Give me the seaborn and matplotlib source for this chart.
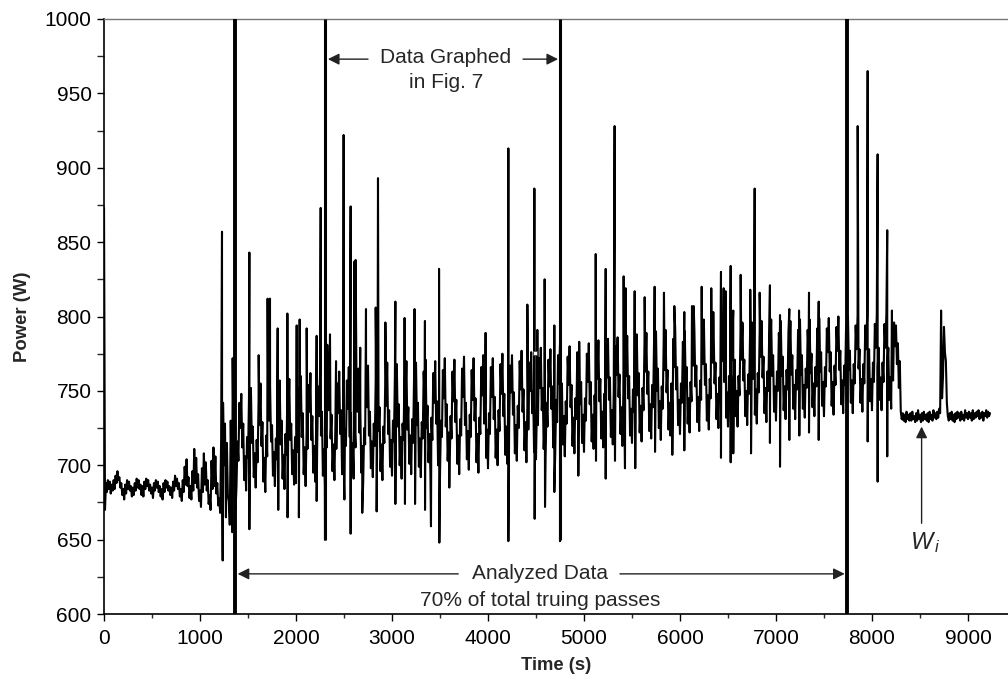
import numpy as np
import pandas as pd
import matplotlib
matplotlib.use("Agg")
import matplotlib.pyplot as plt
from matplotlib.ticker import MultipleLocator
import seaborn as sns

STEP = 10  # logger sampling step (s)

# power readings (W), one every STEP seconds from the segment start time
baseline_0 = [873, 670, 688, 682, 690, 684, 689, 681, 687, 683,
              690, 684, 693, 688, 696, 690, 692, 685, 688, 680,
              684, 677, 687, 681, 690, 684, 689, 683, 686, 679,
              685, 680, 688, 683, 691, 685, 690, 684, 687, 680,
              686, 679, 689, 684, 691, 686, 690, 683, 687, 681,
              685, 678, 688, 683, 690, 685, 689, 682, 686, 679,
              684, 677, 688, 682, 690, 685, 689, 683, 686, 680,
              685, 678, 689, 683, 693, 686, 691, 684, 688, 679,
              684, 676, 690, 682, 699, 687, 704, 686, 692, 678,
              686, 677, 696, 683, 711, 688, 705, 685, 694, 676,
              683, 672, 698, 682, 708, 687, 702, 683, 690, 674,
              680, 670, 703, 684, 712, 686, 706, 681, 688, 673,
              678, 668, 718, 690, 742, 700, 728, 665, 715, 680,
              676, 660, 730, 692, 772, 705, 745, 670]
cycles_1380 = [686, 716, 703, 742, 725, 748, 712, 728, 690, 706,
               683, 719, 705, 745, 729, 752, 715, 726, 692, 708,
               685, 717, 702, 744, 727, 755, 713, 729, 689, 705,
               682, 720, 706, 747, 730, 753, 716, 727, 693, 709,
               686, 718, 704, 746, 728, 757, 714, 730, 691, 707,
               684, 721, 707, 749, 731, 758, 717, 728, 694, 710,
               687, 719]
cycles_2000 = [688, 724, 709, 752, 734, 760, 719, 735, 694, 712,
               686, 722, 711, 754, 736, 762, 717, 733, 695, 713,
               689, 725, 710, 753, 733, 761, 720, 736, 693, 711,
               687, 723, 712, 756, 737, 764, 718, 734, 696, 714,
               690, 726, 711, 755, 735, 763, 721, 737, 694, 712,
               688, 724, 713, 757, 738, 766, 719, 735, 697, 715,
               691, 727, 712, 756, 736, 765, 722, 738, 695, 713,
               689, 725, 714, 758, 739, 767, 720, 736, 698, 716,
               692, 728, 713, 757, 737, 766, 723, 739, 696, 714,
               690, 726, 715, 759, 740, 769, 721, 737, 699, 717]
cycles_3000 = [693, 730, 716, 760, 741, 768, 726, 741, 700, 719,
               691, 728, 717, 762, 743, 770, 724, 739, 701, 720,
               694, 731, 715, 761, 742, 769, 727, 742, 699, 718,
               692, 729, 718, 763, 744, 771, 725, 740, 702, 721,
               695, 732, 717, 762, 742, 770, 728, 743, 700, 719,
               693, 730, 719, 764, 745, 772, 726, 741, 703, 722,
               696, 733, 718, 763, 743, 771, 729, 744, 701, 720,
               694, 731, 720, 765, 746, 773, 727, 742, 704, 723,
               697, 734, 719, 764, 744, 772, 730, 745, 702, 721,
               695, 732, 721, 766, 747, 774, 728, 743, 705, 724]
cycles_4000 = [698, 735, 721, 766, 746, 772, 731, 746, 705, 724,
               700, 737, 723, 768, 748, 775, 733, 748, 707, 726,
               701, 738, 722, 767, 749, 774, 734, 749, 708, 727,
               703, 740, 725, 770, 751, 777, 736, 751, 710, 729,
               702, 739, 724, 769, 750, 776, 735, 750, 709, 728,
               704, 741, 727, 772, 752, 779, 737, 752, 711, 730,
               705, 742, 726, 771, 753, 778, 738, 753, 712, 731,
               707, 744, 729, 774, 755, 781, 740, 755, 714, 733,
               706, 743, 728, 773, 754, 780, 739, 754, 713, 732,
               708, 745, 731, 776, 756, 783, 741, 756, 715, 734]
cycles_5000 = [709, 745, 730, 775, 756, 782, 741, 756, 716, 734,
               711, 747, 732, 777, 758, 784, 743, 758, 718, 736,
               712, 748, 733, 778, 759, 785, 744, 759, 719, 737,
               714, 750, 735, 780, 761, 786, 746, 761, 721, 739,
               713, 749, 734, 779, 760, 787, 745, 760, 720, 738,
               715, 751, 736, 781, 762, 788, 747, 762, 722, 740,
               716, 752, 737, 782, 763, 789, 748, 763, 723, 741,
               718, 754, 739, 784, 765, 790, 750, 765, 725, 743,
               717, 753, 738, 783, 764, 791, 749, 764, 724, 742,
               720, 755, 740, 785, 766, 792, 751, 766, 727, 744]
cycles_6000 = [721, 755, 742, 783, 766, 790, 752, 766, 728, 745,
               722, 756, 743, 784, 767, 791, 753, 767, 729, 746,
               723, 757, 744, 785, 768, 793, 754, 768, 730, 747,
               724, 758, 745, 786, 769, 793, 755, 769, 731, 748,
               725, 759, 746, 787, 770, 794, 756, 770, 732, 749,
               726, 760, 747, 788, 771, 795, 757, 771, 733, 750,
               726, 760, 747, 789, 771, 796, 757, 771, 733, 750,
               727, 761, 748, 789, 772, 796, 758, 772, 734, 751,
               728, 762, 749, 790, 773, 797, 759, 773, 735, 752,
               729, 763, 750, 791, 774, 798, 760, 774, 736, 753]
cycles_7000 = [730, 763, 750, 789, 773, 797, 760, 773, 737, 753,
               731, 764, 751, 790, 774, 797, 761, 774, 738, 754,
               731, 764, 751, 791, 774, 798, 761, 774, 738, 754,
               732, 765, 752, 791, 775, 798, 762, 775, 739, 755,
               733, 766, 753, 792, 776, 799, 763, 776, 740, 756,
               733, 766, 753, 792, 776, 799, 763, 776, 740, 756,
               734, 767, 754, 793, 777, 800, 764, 777, 741, 757,
               735, 767, 754, 793, 777, 800, 764, 777, 742, 757,
               735, 768, 755, 794, 778, 801, 765, 778, 742, 758,
               736, 768, 755, 794, 778, 801, 765, 778, 743, 758]
cycles_8000 = [737, 769, 756, 795, 779, 801, 766, 779, 744, 759,
               737, 769, 756, 795, 779, 802, 766, 779, 744, 759,
               738, 770, 757, 796, 780, 794, 768, 782, 752, 770]
idle_8300 = [736, 731, 735, 730, 734, 729, 736, 731, 734, 730,
             735, 730, 736, 731, 733, 729, 735, 730, 737, 731,
             734, 729, 735, 730, 736, 731, 734, 730, 735, 729,
             736, 731, 734, 730, 737, 732, 735, 731, 736, 732,
             738, 735, 804, 745, 760, 793, 776, 770, 742, 733,
             730, 735, 731, 736, 730, 734, 729, 735, 731, 736,
             732, 735, 730, 736, 731, 734, 730, 737, 732, 735,
             731, 736, 732, 735, 730, 737, 731, 735, 732, 736,
             733, 737, 731, 735, 732, 736, 730, 735, 733, 737,
             732, 736, 733, 735]

# single-sample transients
spike_t = [1229, 1514, 1611, 1704, 1729, 1809, 1910, 2007, 2038, 2111,
           2215, 2257, 2326, 2354, 2417, 2496, 2569, 2609, 2621, 2669,
           2729, 2830, 2854, 2931, 3035, 3131, 3235, 3343, 3490, 3975,
           4212, 4410, 4483, 4514, 4590, 4691, 5122, 5226, 5319, 5413,
           5434, 5528, 5632, 5736, 5833, 5941, 6045, 6125, 6143, 6226,
           6247, 6326, 6347, 6427, 6455, 6476, 6528, 6555, 6632, 6653,
           6732, 6778, 6830, 6937, 7042, 7139, 7240, 7344, 7445, 7851,
           7955, 8059, 8159, 8208]
spike_w = [857, 843, 774, 812, 812, 792, 802, 794, 798, 792,
           787, 873, 781, 788, 770, 922, 874, 837, 838, 779,
           805, 806, 893, 796, 810, 799, 805, 797, 832, 789,
           913, 808, 886, 791, 825, 794, 842, 832, 928, 827,
           819, 817, 813, 820, 816, 807, 803, 807, 807, 820,
           798, 819, 803, 830, 819, 817, 834, 804, 828, 793,
           818, 886, 816, 821, 801, 805, 804, 816, 810, 928,
           965, 909, 858, 804]
dip_t = [1236, 1336, 1514, 1815, 1912, 2030, 2215, 2302, 2504, 2569,
         2690, 2840, 3035, 3135, 3240, 3344, 3406, 3493, 3597, 4212,
         4486, 4594, 4691, 4750, 4941, 5125, 5226, 5323, 5427, 5534,
         5740, 5920, 6045, 6427, 6528, 6555, 6740, 6937, 7042, 7139,
         7243, 7344, 7445, 7955, 8059, 8159]
dip_w = [636, 655, 657, 670, 665, 665, 676, 650, 677, 654,
         668, 669, 674, 674, 674, 670, 659, 648, 685, 649,
         664, 672, 682, 649, 693, 703, 691, 703, 698, 698,
         709, 707, 710, 705, 702, 708, 708, 715, 699, 717,
         720, 722, 717, 716, 689, 706]

# section boundaries (s)
analyzed_start, analyzed_end = 1367, 7736
fig7_start, fig7_end = 2302, 4750


def build_frame():
    segments = [(0, baseline_0), (1380, cycles_1380), (2000, cycles_2000),
                (3000, cycles_3000), (4000, cycles_4000), (5000, cycles_5000),
                (6000, cycles_6000), (7000, cycles_7000), (8000, cycles_8000),
                (8300, idle_8300)]
    parts = []
    for start, vals in segments:
        t = start + STEP * np.arange(len(vals))
        parts.append(pd.DataFrame({"time": t, "power": vals}))
    parts.append(pd.DataFrame({"time": spike_t, "power": spike_w}))
    parts.append(pd.DataFrame({"time": dip_t, "power": dip_w}))
    df = pd.concat(parts, ignore_index=True)
    return df.sort_values("time", kind="mergesort").reset_index(drop=True)


def main():
    df = build_frame()

    sns.set_style("ticks")
    plt.rcParams["font.family"] = ["Liberation Sans", "DejaVu Sans"]
    plt.rcParams["mathtext.fontset"] = "custom"
    plt.rcParams["mathtext.it"] = "Liberation Sans:italic"
    plt.rcParams["mathtext.rm"] = "Liberation Sans"

    fig = plt.figure(figsize=(10.08, 6.85), dpi=100)
    ax = fig.add_axes([0.1032, 0.1036, 0.8968, 0.8687])

    sns.lineplot(data=df, x="time", y="power", estimator=None, sort=False,
                 color="black", lw=1.5, ax=ax)
    ax.plot([4490], [775.5], marker="s", ms=3.5, mfc="white", mec="#444", mew=0.6)

    # section markers
    for t in (analyzed_start, analyzed_end):
        ax.axvline(t, color="black", lw=2.8, zorder=3)
    ax.vlines([fig7_start, fig7_end], 650, 1000, color="black", lw=2.2, zorder=3)

    arrow = dict(arrowstyle="-|>", color="#222", lw=1.0, mutation_scale=17,
                 shrinkA=0, shrinkB=0)
    ax.annotate("", xy=(fig7_start + 30, 973), xytext=(2750, 973), arrowprops=arrow)
    ax.annotate("", xy=(fig7_end - 20, 973), xytext=(4365, 973), arrowprops=arrow)
    ax.text(3560, 974, "Data Graphed", ha="center", va="center", fontsize=15)
    ax.text(3565, 957, "in Fig. 7", ha="center", va="center", fontsize=15)

    ax.annotate("", xy=(analyzed_start + 25, 627), xytext=(3690, 627), arrowprops=arrow)
    ax.annotate("", xy=(analyzed_end - 20, 627), xytext=(5375, 627), arrowprops=arrow)
    ax.text(4545, 627.5, "Analyzed Data", ha="center", va="center", fontsize=15)
    ax.text(4547, 609, "70% of total truing passes", ha="center", va="center",
            fontsize=15)

    ax.annotate("", xy=(8517, 726), xytext=(8517, 661), arrowprops=arrow)
    ax.text(8555, 648, r"$W_{\,i}$", ha="center", va="center", fontsize=17)

    ax.set_xlim(0, 9417)
    ax.set_ylim(600, 1000)
    ax.xaxis.set_major_locator(MultipleLocator(1000))
    ax.xaxis.set_minor_locator(MultipleLocator(500))
    ax.yaxis.set_major_locator(MultipleLocator(50))
    ax.yaxis.set_minor_locator(MultipleLocator(25))
    ax.tick_params(axis="both", which="major", labelsize=15, length=5,
                   width=1, color="black", labelcolor="black")
    ax.tick_params(axis="x", which="minor", length=3, width=1)
    ax.tick_params(axis="y", which="minor", length=5, width=1)
    ax.tick_params(axis="x", pad=6)
    ax.tick_params(axis="y", pad=4)

    ax.set_xlabel("Time (s)", fontsize=13.3, fontweight="bold", labelpad=6)
    ax.set_ylabel("Power (W)", fontsize=13.3, fontweight="bold", labelpad=10)

    for side in ("left", "bottom"):
        ax.spines[side].set_color("black")
        ax.spines[side].set_linewidth(1.2)
    ax.spines["top"].set_color("#777")
    ax.spines["top"].set_linewidth(1.0)
    ax.spines["right"].set_visible(False)
    ax.grid(False)

    fig.savefig("out.png", dpi=100)
    plt.close(fig)


if __name__ == "__main__":
    main()
